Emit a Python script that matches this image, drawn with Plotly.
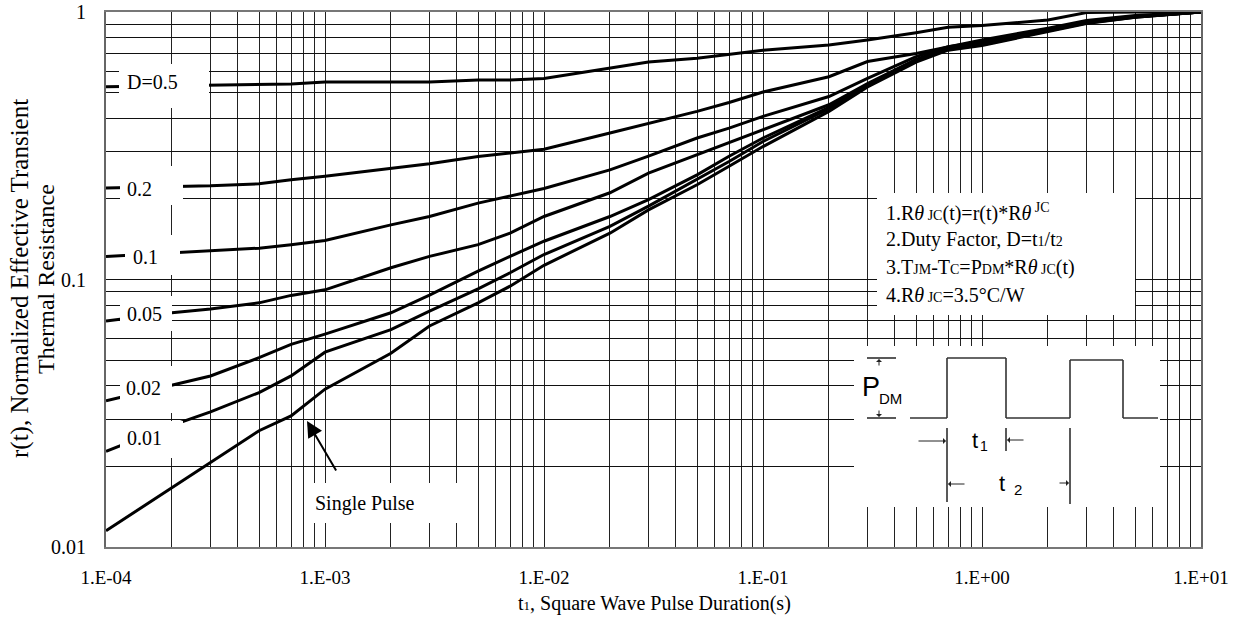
import plotly.graph_objects as go

# ---------------- data ----------------
t_s = [1e-4, 2e-4, 3e-4, 5e-4, 7e-4, 1e-3, 2e-3, 3e-3, 5e-3, 7e-3, 1e-2, 2e-2, 3e-2,
       5e-2, 7e-2, 1e-1, 2e-1, 3e-1, 5e-1, 7e-1, 1, 2, 3, 5, 10]

r_d050 = [0.525, 0.53, 0.532, 0.536, 0.538, 0.548, 0.548, 0.547, 0.557, 0.557, 0.564, 0.616, 0.65,
          0.672, 0.697, 0.72, 0.753, 0.786, 0.837, 0.877, 0.89, 0.934, 0.995, 1.0, 1.0]
r_d020 = [0.22, 0.222, 0.224, 0.228, 0.236, 0.243, 0.261, 0.271, 0.288, 0.298, 0.307, 0.353, 0.384,
          0.425, 0.459, 0.502, 0.573, 0.653, 0.70, 0.742, 0.786, 0.87, 0.93, 0.97, 1.0]
r_d010 = [0.122, 0.126, 0.128, 0.131, 0.135, 0.14, 0.16, 0.172, 0.193, 0.205, 0.219, 0.257, 0.289,
          0.338, 0.368, 0.407, 0.483, 0.565, 0.681, 0.742, 0.775, 0.86, 0.92, 0.96, 1.0]
r_d005 = [0.07, 0.0751, 0.0775, 0.0818, 0.0872, 0.0915, 0.1106, 0.122, 0.135, 0.149, 0.172, 0.211, 0.25,
          0.293, 0.324, 0.361, 0.45, 0.54, 0.665, 0.735, 0.765, 0.855, 0.92, 0.96, 1.0]
r_d002 = [0.0352, 0.0402, 0.0436, 0.051, 0.0572, 0.0625, 0.0751, 0.0874, 0.1074, 0.122, 0.139, 0.172, 0.199,
          0.246, 0.289, 0.338, 0.44, 0.535, 0.66, 0.73, 0.76, 0.85, 0.915, 0.96, 1.0]
r_d001 = [0.0228, 0.0285, 0.032, 0.0378, 0.0436, 0.0535, 0.065, 0.0762, 0.0923, 0.106, 0.124, 0.158, 0.188,
          0.236, 0.276, 0.328, 0.435, 0.53, 0.655, 0.725, 0.755, 0.85, 0.91, 0.955, 1.0]
r_single = [0.0115, 0.0167, 0.0207, 0.0272, 0.0309, 0.0389, 0.053, 0.067, 0.0818, 0.0944, 0.113, 0.149, 0.182,
            0.226, 0.265, 0.314, 0.425, 0.525, 0.65, 0.72, 0.75, 0.845, 0.905, 0.955, 1.0]

series_names = ["D=0.5", "0.2", "0.1", "0.05", "0.02", "0.01", "Single Pulse"]
series_values = [r_d050, r_d020, r_d010, r_d005, r_d002, r_d001, r_single]

x_major = [1e-4, 1e-3, 1e-2, 1e-1, 1e0, 1e1]
x_major_labels = ["1.E-04", "1.E-03", "1.E-02", "1.E-01", "1.E+00", "1.E+01"]
y_major = [0.01, 0.1, 1]
y_major_labels = ["0.01", "0.1", "1"]

notes = [
    "1.R<i>θ</i><span style='font-size:14px'> JC</span>(t)=r(t)*R<i>θ</i><sup> JC</sup>",
    "2.Duty Factor, D=t<span style='font-size:14px'>1</span>/t<span style='font-size:14px'>2</span>",
    "3.T<span style='font-size:14px'>JM</span>-T<span style='font-size:14px'>C</span>=P<span style='font-size:14px'>DM</span>*R<i>θ</i><span style='font-size:14px'> JC</span>(t)",
    "4.R<i>θ</i><span style='font-size:14px'> JC</span>=3.5°C/W",
]

# ---------------- layout helpers ----------------
W, H = 1238, 621
L, R, T, B = 106, 1201, 12, 547   # plot area in screen pixels
SERIF = "Liberation Serif"
SANS = "Liberation Sans"


def px(x):
    return (x - L) / (R - L)


def py(y):
    return (B - y) / (B - T)


def minor_ticks(majors):
    vals, texts = [], []
    for i, m in enumerate(majors):
        vals.append(m)
        texts.append(None)
        if i < len(majors) - 1:
            for k in range(2, 10):
                vals.append(m * k)
                texts.append(" ")
    return vals, texts


xtv, xtt = minor_ticks(x_major)
xtt = [x_major_labels[x_major.index(v)] if tt is None else tt for v, tt in zip(xtv, xtt)]
ytv, ytt = minor_ticks(y_major)
ytt = [y_major_labels[y_major.index(v)] if tt is None else tt for v, tt in zip(ytv, ytt)]

fig = go.Figure()
for name, vals in zip(series_names, series_values):
    fig.add_trace(go.Scatter(x=t_s, y=vals, mode="lines", name=name,
                             line=dict(color="black", width=3), showlegend=False))

shapes = []
annotations = []


def white_box(x0, x1, y0, y1):
    shapes.append(dict(type="rect", xref="paper", yref="paper", x0=px(x0), x1=px(x1),
                       y0=py(y1), y1=py(y0), fillcolor="white", line=dict(width=0), layer="above"))


def text(x, y, s, size=20, family=SERIF, xanchor="center", angle=0):
    annotations.append(dict(x=px(x), y=py(y), xref="paper", yref="paper", text=s, showarrow=False,
                            xanchor=xanchor, yanchor="middle", textangle=angle,
                            font=dict(family=family, size=size, color="black")))


def seg(x0, y0, x1, y1, color="#222", width=1.5):
    shapes.append(dict(type="line", xref="paper", yref="paper", x0=px(x0), y0=py(y0),
                       x1=px(x1), y1=py(y1), line=dict(color=color, width=width), layer="above"))


def arrow(xh, yh, dx, dy, width=1, head=1, size=1.0, color="#222"):
    annotations.append(dict(x=px(xh), y=py(yh), xref="paper", yref="paper", ax=dx, ay=dy,
                            axref="pixel", ayref="pixel", text="", showarrow=True,
                            arrowhead=head, arrowwidth=width, arrowsize=size, arrowcolor=color))


# curve label boxes and texts
white_box(119, 209, 64, 108); text(152, 82, "D=0.5")
white_box(120, 183, 166, 205); text(139, 189, "0.2")
white_box(125, 180, 235, 275); text(145, 257, "0.1")
white_box(120, 172, 296, 331); text(144, 314, "0.05")
white_box(120, 172, 366, 413); text(143, 388, "0.02")
white_box(120, 183, 421, 458); text(144, 438, "0.01")
white_box(310, 465, 483, 523); text(313, 503, "Single Pulse", xanchor="left")
arrow(307, 421, 30, 51, width=2, head=2, size=1.6, color="black")

# notes box
white_box(877, 1135, 193, 315)
for i, s in enumerate(notes):
    text(884, 212 + i * 27.7, s, size=20, xanchor="left")

# pulse diagram box
white_box(854, 1160, 346, 507)
wave = [(910, 418), (947, 418), (947, 358), (1006, 358), (1006, 418), (1070, 418),
        (1070, 360), (1123, 360), (1123, 418), (1158, 418)]
for (a, b), (c, d) in zip(wave[:-1], wave[1:]):
    seg(a, b, c, d, color="#333", width=1.6)
seg(867, 358, 896, 358)
seg(867, 418, 896, 418)
arrow(879, 359, 0, 8)
arrow(879, 417, 0, -8)
text(871, 387, "P", size=27, family=SANS)
text(890, 398, "DM", size=15, family=SANS)
seg(947, 428, 947, 502)
seg(1006, 428, 1006, 451)
seg(1070, 428, 1070, 504)
arrow(946, 441, -29, 0)
arrow(1007, 440, 18, 0)
arrow(948, 484, 18, 0)
arrow(1069, 483, -11, 0)
text(975, 440, "t", size=22, family=SANS)
text(984, 446, "1", size=14, family=SANS)
text(1002, 483, "t", size=22, family=SANS)
text(1018, 489, "2", size=15, family=SANS)

# axis titles
text(20, 279, "r(t), Normalized Effective Transient", size=25, angle=-90)
text(46, 279, "Thermal Resistance", size=24, angle=-90)
text(654, 603, "t<span style='font-size:13px'>1</span>, Square Wave Pulse Duration(s)")

fig.update_layout(
    width=W, height=H,
    margin=dict(l=L, r=W - R, t=T, b=H - B, autoexpand=False),
    paper_bgcolor="white", plot_bgcolor="white",
    shapes=shapes, annotations=annotations,
    font=dict(family=SERIF, size=20, color="black"),
    xaxis=dict(type="log", range=[-4, 1], tickvals=xtv, ticktext=xtt, automargin=False,
               tickangle=0, ticklabeloverflow="allow",
               showgrid=True, gridcolor="#222", gridwidth=1, zeroline=False,
               showline=True, mirror=True, linecolor="#777", linewidth=2,
               ticks="outside", ticklen=12, tickcolor="rgba(0,0,0,0)",
               tickfont=dict(family=SERIF, size=19)),
    yaxis=dict(type="log", range=[-2, 0], tickvals=ytv, ticktext=ytt, automargin=False,
               tickangle=0, ticklabeloverflow="allow",
               showgrid=True, gridcolor="#111", gridwidth=1, zeroline=False,
               showline=True, mirror=True, linecolor="#666", linewidth=2,
               ticks="outside", ticklen=14, tickcolor="rgba(0,0,0,0)",
               tickfont=dict(family=SERIF, size=20)),
)

fig.write_html("out.html", config={"displayModeBar": False},
               post_script="document.body.style.margin='0';document.body.style.overflow='hidden';")
